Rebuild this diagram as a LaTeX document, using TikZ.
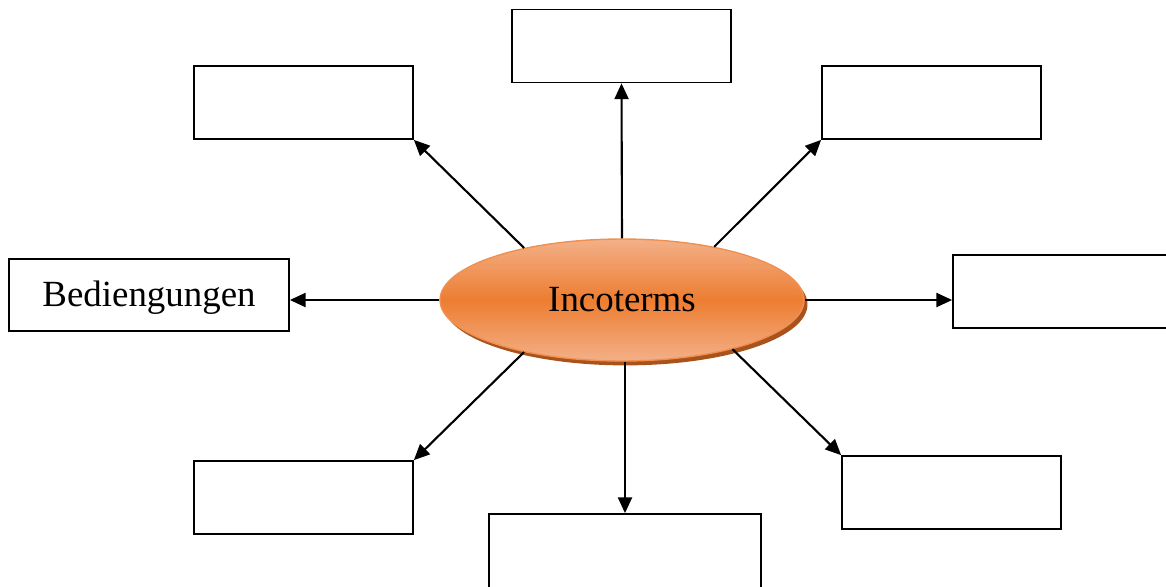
\documentclass[tikz,border=0pt]{standalone}
\usepackage{fontspec}
\setmainfont{Liberation Serif}
\usetikzlibrary{shapes.geometric,arrows.meta,shadows}
\definecolor{incorange}{HTML}{ED7D31}
\definecolor{inclight}{HTML}{F3B088}
\definecolor{incshadow}{HTML}{A9531C}
\def\boxw{4.38cm}

\begin{document}
\begin{tikzpicture}[x=0.02cm,y=-0.02cm,->,>={Triangle[length=9pt,width=8pt]},line width=1.2pt]
    \tikzstyle{box}=[draw,line width=1pt,minimum width=\boxw,minimum height=1.46cm,inner sep=0pt,font=\fontsize{21}{25}\selectfont]
    \tikzstyle{centre}=[ellipse,draw=incorange!85,line width=0.8pt,minimum width=7.28cm,minimum height=2.44cm,
        top color=inclight,bottom color=inclight,middle color=incorange,
        drop shadow={shadow xshift=2pt,shadow yshift=-2.5pt,fill=incshadow,opacity=1},
        font=\fontsize{21}{25}\selectfont]

    \useasboundingbox (0,0) rectangle (1166,586);

    % Centre node
    \node[centre] (inc) at (622,300) {Incoterms};

    % The empty boxes round it
    \foreach \name / \x / \y in {T/621.5/46, TL/303.5/102.5, TR/931.5/102.5, BL/303.5/497.5, BR/951.5/492.5}
        \node[box] (\name) at (\x,\y) {};
    \node[box,minimum width=4.6cm] (R) at (1068,291.5) {};
    \node[box,minimum width=5.44cm,minimum height=1.6cm] (B) at (625,554) {};
    \node[box,minimum width=5.6cm,minimum height=1.44cm,text depth=0.05cm] (L) at (149,295) {Bediengungen};

    % Arrows from the centre
    \draw (inc.north) -- (T.south);
    \draw (inc.152) -- (TL.south east);
    \draw (inc.30) -- (TR.south west);
    \draw (inc.west) -- (inc.west -| L.east);
    \draw (inc.east) -- (inc.east -| R.west);
    \draw (inc.208) -- (BL.north east);
    \draw (inc.south -| B.north) -- (B.north);
    \draw (inc.-24) -- (BR.north west);
\end{tikzpicture}
\end{document}
